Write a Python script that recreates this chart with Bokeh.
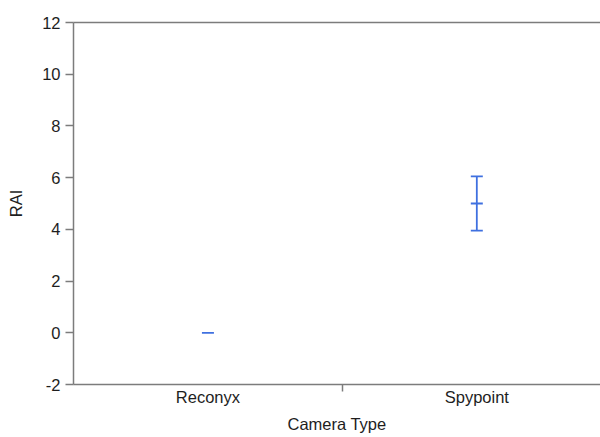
from bokeh.plotting import figure
from bokeh.models import (Range1d, FixedTicker, LinearAxis, Whisker, ColumnDataSource,
                          TeeHead)
from bokeh.embed import file_html
from bokeh.resources import INLINE

# ---- data ----
categories = ["Reconyx", "Spypoint"]
means = [0.0, 5.0]
lowers = [0.0, 3.95]
uppers = [0.0, 6.05]
y_ticks = [-2, 0, 2, 4, 6, 8, 10, 12]

# ---- derived positions (category slots) ----
xpos = [i + 0.5 for i in range(len(categories))]
seps = [i + 1.0 for i in range(len(categories) - 1)]

BLUE = "#3f70e0"
GREY = "#7c7c7c"
TEXT = "#1e1e1e"
FONT = "Liberation Sans"
FS = "16.5px"

p = figure(width=600, height=437, output_backend="svg", toolbar_location=None,
           x_range=Range1d(0, 1.96), y_range=Range1d(-2, 12),
           min_border_left=73, min_border_right=0, min_border_top=22,
           min_border_bottom=53)
p.outline_line_color = None
p.grid.visible = False
p.background_fill_color = "white"
p.border_fill_color = "white"

# x axis
xa = p.xaxis[0]
xa.ticker = FixedTicker(ticks=xpos, minor_ticks=seps)
xa.major_label_overrides = {x: c for x, c in zip(xpos, categories)}
xa.major_tick_line_color = None
xa.major_tick_out = 0
xa.major_tick_in = 0
xa.minor_tick_out = 7
xa.minor_tick_in = 0
xa.minor_tick_line_color = GREY
xa.minor_tick_line_width = 1.5
xa.axis_line_color = GREY
xa.axis_line_width = 1.5
xa.major_label_standoff = -4
xa.major_label_text_font = FONT
xa.major_label_text_font_size = FS
xa.major_label_text_color = TEXT
xa.axis_label = "Camera Type"
xa.axis_label_text_font = FONT
xa.axis_label_text_font_size = FS
xa.axis_label_text_font_style = "normal"
xa.axis_label_text_color = TEXT
xa.axis_label_standoff = 6

# y axis
ya = p.yaxis[0]
ya.ticker = FixedTicker(ticks=y_ticks)
ya.major_label_overrides = {t: str(t) for t in y_ticks}
ya.major_tick_out = 8
ya.major_tick_in = 0
ya.minor_tick_line_color = None
ya.major_tick_line_color = GREY
ya.major_tick_line_width = 1.5
ya.axis_line_color = GREY
ya.axis_line_width = 1.5
ya.major_label_standoff = 5
ya.major_label_text_font = FONT
ya.major_label_text_font_size = FS
ya.major_label_text_color = TEXT
ya.axis_label = "RAI"
ya.axis_label_text_font = FONT
ya.axis_label_text_font_size = FS
ya.axis_label_text_font_style = "normal"
ya.axis_label_text_color = TEXT
ya.axis_label_standoff = 14

# top frame line
top = LinearAxis(ticker=FixedTicker(ticks=[]), major_tick_out=0, major_tick_in=0,
                 minor_tick_out=0, minor_tick_in=0,
                 major_label_text_font_size="0px",
                 axis_line_color=GREY, axis_line_width=1.5)
p.add_layout(top, "above")

# means
src = ColumnDataSource(dict(x=xpos, mean=means))
p.dash(x="x", y="mean", source=src, size=12, angle=0, line_color=BLUE, line_width=1.8)

# error bars (only where there is a spread)
keep = [i for i in range(len(categories)) if uppers[i] > lowers[i]]
wsrc = ColumnDataSource(dict(x=[xpos[i] for i in keep],
                             lo=[lowers[i] for i in keep],
                             hi=[uppers[i] for i in keep]))
w = Whisker(base="x", lower="lo", upper="hi", source=wsrc,
            line_color=BLUE, line_width=1.8,
            upper_head=TeeHead(size=12, line_color=BLUE, line_width=1.8),
            lower_head=TeeHead(size=12, line_color=BLUE, line_width=1.8))
p.add_layout(w)

open("out.html", "w").write(file_html(p, INLINE))
